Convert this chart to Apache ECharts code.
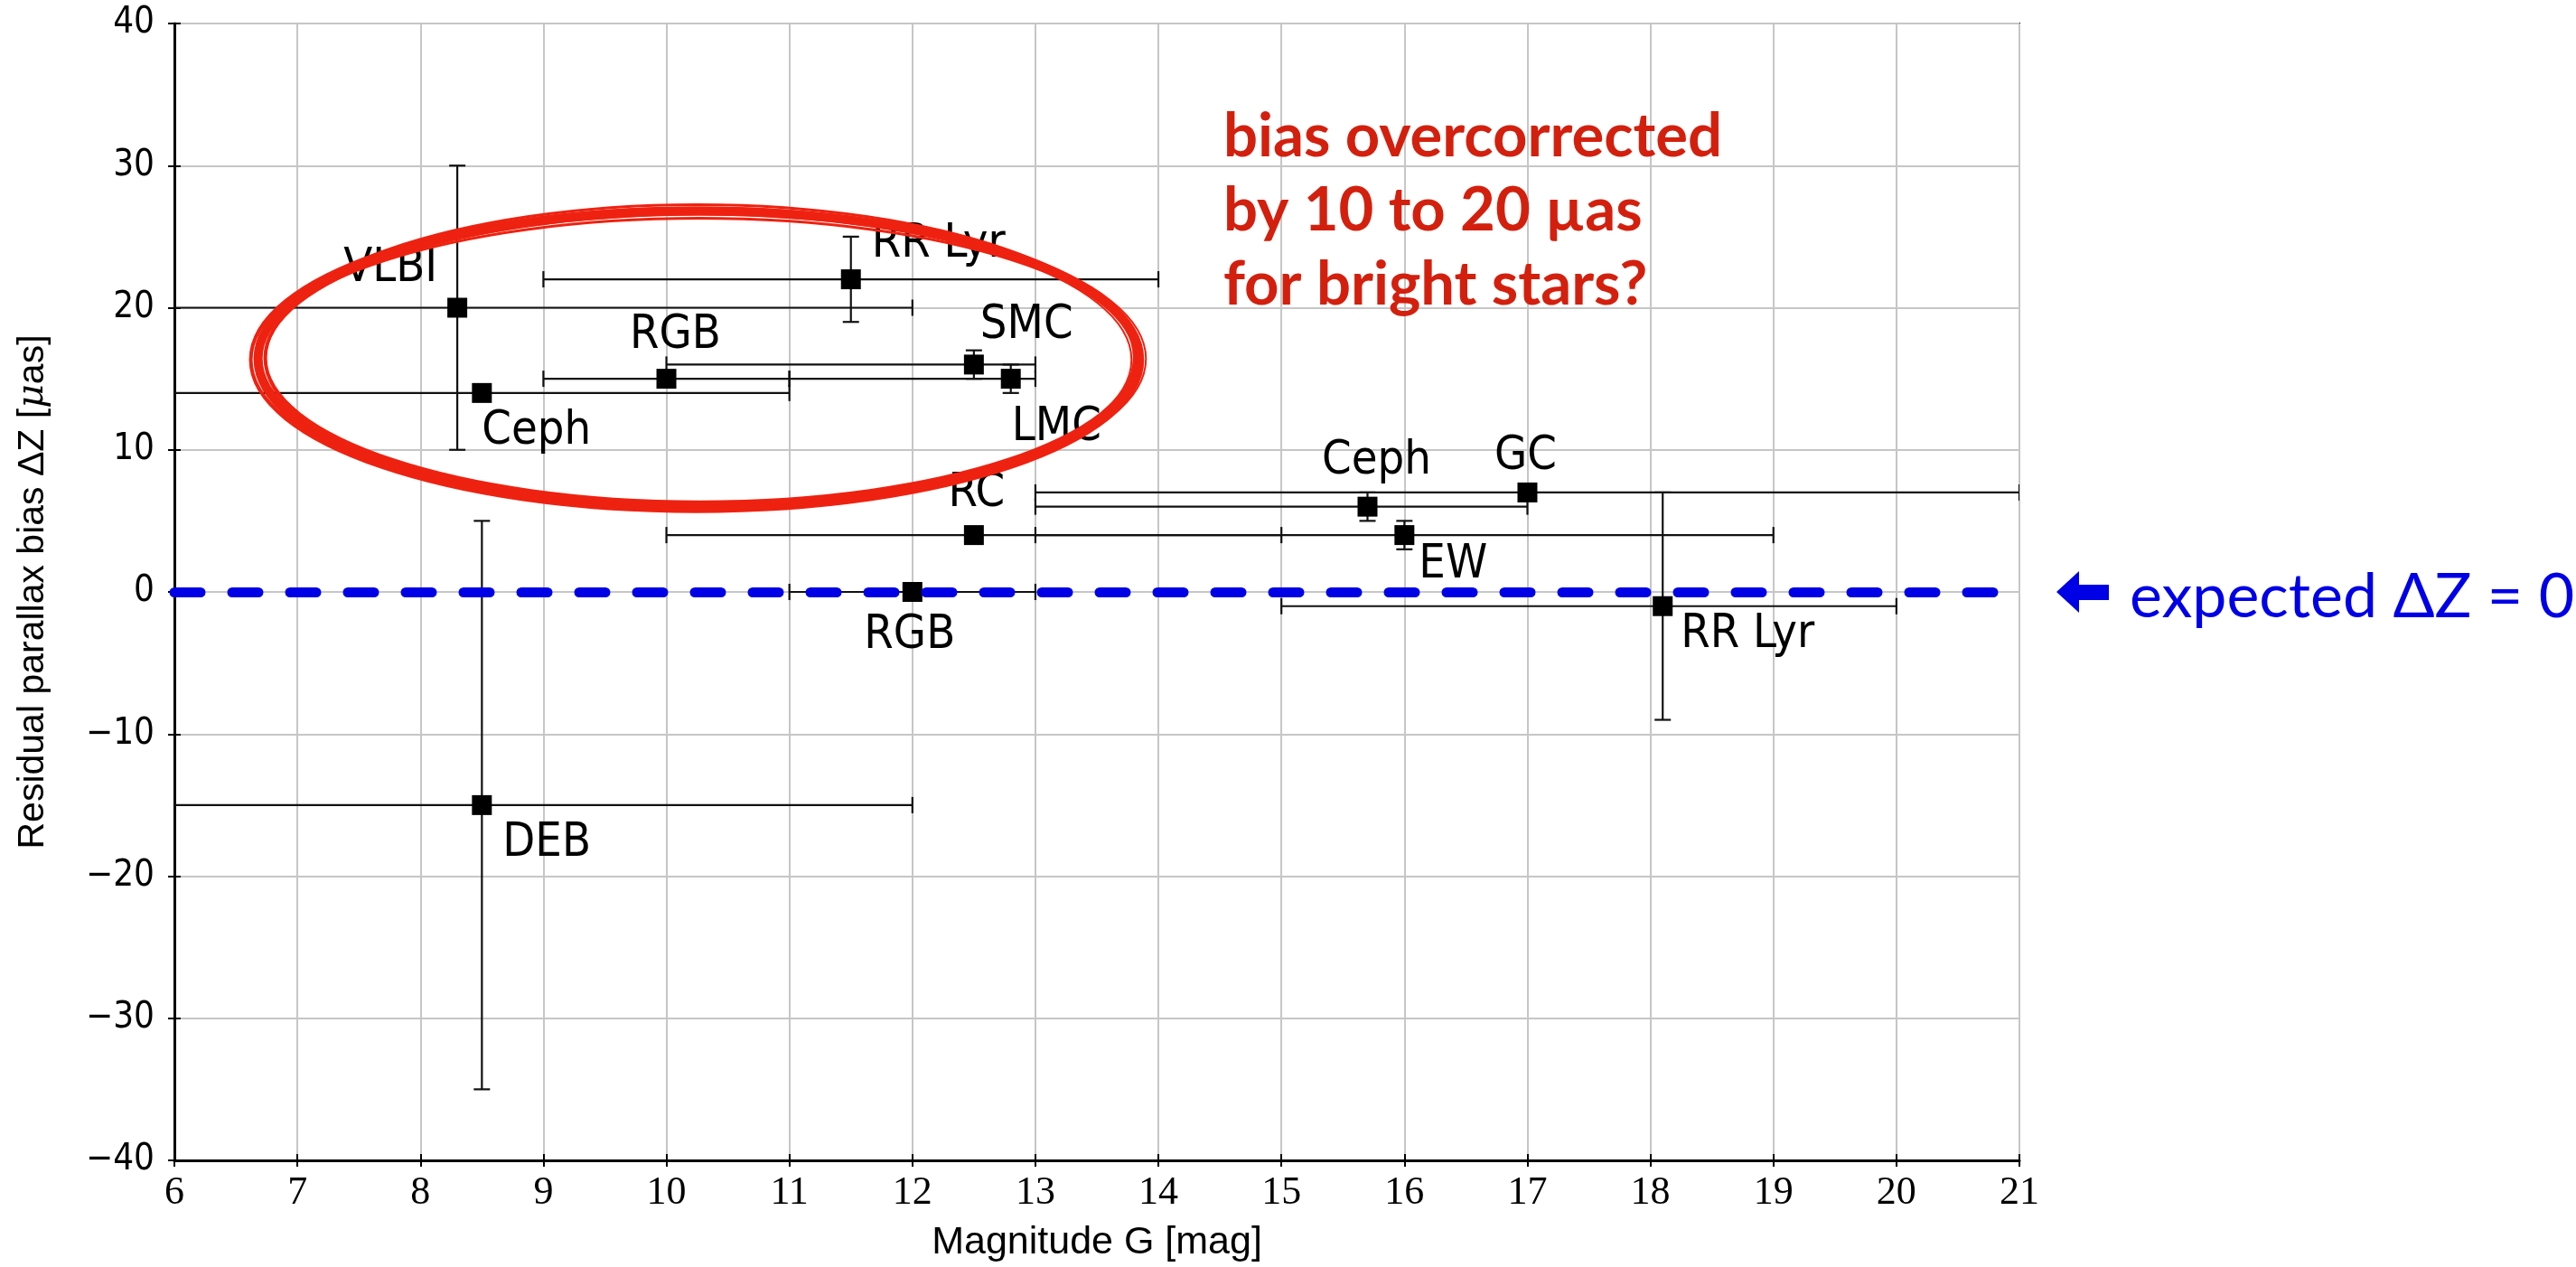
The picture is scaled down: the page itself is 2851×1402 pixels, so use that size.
<!DOCTYPE html>
<html><head><meta charset="utf-8">
<script src="https://cdn.jsdelivr.net/npm/echarts@6/dist/echarts.min.js"></script>
<style>html,body{margin:0;padding:0;background:#fff}#c{width:2851px;height:1402px}</style>
</head><body><div id="c"></div>
<script>
// ---- data ----
const names   = ['VLBI','Ceph','RGB','RR Lyr','SMC','LMC','RC','Ceph','GC','EW','RGB','RR Lyr','DEB'];
const magG    = [8.3, 8.5, 10.0, 11.5, 12.5, 12.8, 12.5, 15.7, 17.0, 16.0, 12.0, 18.1, 8.5];
const deltaZ  = [20, 14, 15, 22, 16, 15, 4, 6, 7, 4, 0, -1, -15];
const magLow  = [4.6, 6.0, 9.0, 9.0, 10.0, 11.0, 10.0, 13.0, 13.0, 13.0, 11.0, 15.0, 5.0];
const magHigh = [12.0, 11.0, 11.0, 14.0, 13.0, 13.0, 15.0, 17.0, 21.0, 19.0, 13.0, 20.0, 12.0];
const dzLow   = [10, 14, 15, 19, 15, 14, 4, 5, 7, 3, 0, -9, -35];
const dzHigh  = [30, 14, 15, 25, 17, 16, 4, 7, 7, 5, 0, 7, 5];
const xTicks  = [6,7,8,9,10,11,12,13,14,15,16,17,18,19,20,21];
const yTicks  = [-40,-30,-20,-10,0,10,20,30,40];
const expectedDZ = 0;

// ---- label placement (style) ----
const labelCfg = [
  ['right',-22,-43],['left',0,43],['center',10,-48],['left',23,-39],['left',7,-43],['left',1,54],
  ['center',3,-46],['center',10,-50],['center',-2,-39],['left',16,33],['center',-3,48],['left',20,32],['left',23,43]
];

const condensed = "'DejaVu Sans Condensed','Liberation Sans Narrow','DejaVu Sans',sans-serif";
const chart = echarts.init(document.getElementById('c'), null, {renderer:'canvas'});

const scatterData = magG.map((m,i)=>({
  value:[m, deltaZ[i]],
  label:{show:true, formatter:names[i], position:'inside', align:labelCfg[i][0], verticalAlign:'middle',
         offset:[labelCfg[i][1], labelCfg[i][2]], color:'#000', fontFamily:condensed, fontSize:52}
}));
const errData = magG.map((m,i)=>[m, deltaZ[i], magLow[i], magHigh[i], dzLow[i], dzHigh[i]]);

const axisCommonX = {type:'value', min:xTicks[0], max:xTicks[xTicks.length-1], interval:xTicks[1]-xTicks[0]};
const axisCommonY = {type:'value', min:yTicks[0], max:yTicks[yTicks.length-1], interval:yTicks[1]-yTicks[0]};

const option = {
  animation:false,
  backgroundColor:'#fff',
  grid:{left:193, top:26, right:616, bottom:118, show:true, borderColor:'#000', borderWidth:2, backgroundColor:'transparent'},
  xAxis:[
    Object.assign({}, axisCommonX, {
      name:'Magnitude G [mag]', nameLocation:'middle', nameGap:70,
      nameTextStyle:{fontFamily:"'Liberation Sans',sans-serif", fontSize:43, color:'#000'},
      axisLine:{onZero:false, lineStyle:{color:'#000', width:3}},
      axisTick:{show:true, length:7, lineStyle:{color:'#000', width:2}},
      axisLabel:{color:'#000', fontFamily:"'Liberation Serif',serif", fontSize:44, margin:14},
      splitLine:{show:true, lineStyle:{color:'#c6c6c6', width:2}}
    }),
    Object.assign({}, axisCommonX, {
      position:'bottom', axisLine:{show:false, onZero:false},
      axisTick:{show:true, inside:true, length:7, lineStyle:{color:'#000', width:2}},
      axisLabel:{show:false}, splitLine:{show:false}
    })
  ],
  yAxis:[
    Object.assign({}, axisCommonY, {
      name:'Residual parallax bias ΔZ [{i|μ}as]', nameLocation:'middle', nameGap:136, nameRotate:90,
      nameTextStyle:{fontFamily:"'Liberation Sans',sans-serif", fontSize:41, color:'#000',
        rich:{i:{fontFamily:"'DejaVu Serif',serif", fontStyle:'italic', fontSize:41, color:'#000'}}},
      axisLine:{onZero:false, lineStyle:{color:'#000', width:3}},
      axisTick:{show:true, length:7, lineStyle:{color:'#000', width:2}},
      axisLabel:{color:'#000', fontFamily:condensed, fontSize:40, margin:22,
        formatter:v => v < 0 ? '\u2212' + Math.abs(v) : String(v)},
      splitLine:{show:true, lineStyle:{color:'#c6c6c6', width:2}}
    }),
    Object.assign({}, axisCommonY, {
      position:'left', axisLine:{show:false, onZero:false},
      axisTick:{show:true, inside:true, length:7, lineStyle:{color:'#000', width:2}},
      axisLabel:{show:false}, splitLine:{show:false}
    })
  ],
  series:[
    {
      type:'custom', name:'err', xAxisIndex:0, yAxisIndex:0, clip:true, z:2, silent:true,
      data:errData,
      renderItem:function(params, api){
        const x=api.value(0), y=api.value(1), xl=api.value(2), xh=api.value(3), yl=api.value(4), yh=api.value(5);
        const st={stroke:'#111', lineWidth:2.2};
        const cap=9, ch=[];
        if (xh > xl) {
          const a=api.coord([xl,y]), b=api.coord([xh,y]);
          ch.push({type:'line', shape:{x1:a[0],y1:a[1],x2:b[0],y2:b[1]}, style:st});
          ch.push({type:'line', shape:{x1:a[0],y1:a[1]-cap,x2:a[0],y2:a[1]+cap}, style:st});
          ch.push({type:'line', shape:{x1:b[0],y1:b[1]-cap,x2:b[0],y2:b[1]+cap}, style:st});
        }
        if (yh > yl) {
          const a=api.coord([x,yl]), b=api.coord([x,yh]);
          ch.push({type:'line', shape:{x1:a[0],y1:a[1],x2:b[0],y2:b[1]}, style:st});
          ch.push({type:'line', shape:{x1:a[0]-cap,y1:a[1],x2:a[0]+cap,y2:a[1]}, style:st});
          ch.push({type:'line', shape:{x1:b[0]-cap,y1:b[1],x2:b[0]+cap,y2:b[1]}, style:st});
        }
        return {type:'group', children:ch};
      }
    },
    {
      type:'scatter', name:'pts', xAxisIndex:0, yAxisIndex:0, z:4, silent:true,
      symbol:'rect', symbolSize:22, itemStyle:{color:'#000', opacity:1},
      data:scatterData,
      markLine:{
        silent:true, symbol:['none','none'], label:{show:false},
        lineStyle:{color:'#0000e6', width:11, type:[29,35], cap:'round', opacity:1},
        data:[{yAxis:expectedDZ}]
      }
    }
  ]
};
chart.setOption(option);

// ---- annotations ----
const c = chart.convertToPixel({gridIndex:0}, [10.26, 16.4]);
const r0 = chart.convertToPixel({gridIndex:0}, [10.26+3.58, 16.4+10.4]);
const rx = r0[0]-c[0], ry = c[1]-r0[1];
const zeroPx = chart.convertToPixel({gridIndex:0}, [21, expectedDZ]);
const ellVar = [[0,0,0,0,10],[6,4,-2,1,4],[-6,-4,2,-1,4],[3,-6,1,2,3],[-4,5,-1,-2,3],[8,2,0,0,2],[-8,-2,0,1,2]];
const graphics = ellVar.map(v=>({
  type:'ellipse', shape:{cx:c[0]+v[2], cy:c[1]+v[3], rx:rx+v[0], ry:ry+v[1]},
  style:{fill:'none', stroke:'#ee2211', lineWidth:v[4], opacity:1}, z:10, silent:true
}));
const redLines = ['bias overcorrected','by 10 to 20 µas','for bright stars?'];
redLines.forEach((t,i)=>graphics.push({
  type:'text', x:1354, y:151+82*i, z:11, silent:true,
  style:{text:t, fill:'#d3200e', font:"bold 67px Lato, 'Open Sans', sans-serif", verticalAlign:'middle', align:'left'}
}));
const ax = zeroPx[0]+41, ay = zeroPx[1];
graphics.push({type:'polygon', z:11, silent:true,
  shape:{points:[[ax,ay],[ax+25,ay-23],[ax+25,ay-8],[ax+58,ay-8],[ax+58,ay+9],[ax+25,ay+9],[ax+25,ay+23]]},
  style:{fill:'#0000e6'}});
graphics.push({type:'text', x:ax+81, y:ay+6, z:11, silent:true,
  style:{text:'expected ΔZ = 0', fill:'#0000e6', font:"68px Lato, 'Open Sans', sans-serif", verticalAlign:'middle', align:'left'}});
chart.setOption({graphic:graphics});
</script></body></html>
